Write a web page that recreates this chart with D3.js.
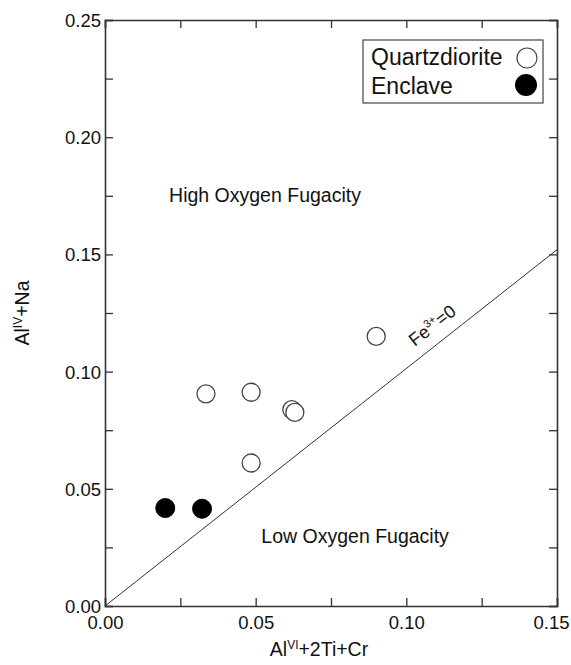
<!DOCTYPE html>
<html lang="en">
<head>
    <meta charset="UTF-8">
    <title>Fe3+ oxygen fugacity plot</title>
    <script src="https://d3js.org/d3.v7.min.js"></script>
    <style>
        body { margin: 0; background: #fff; }
        text { font-family: "Liberation Sans", Arial, sans-serif; fill: #111; }
    </style>
</head>
<body>
    <div id="chart"></div>
    <script>
        // data
        const quartzX = [0.0335, 0.0485, 0.0620, 0.0630, 0.0485, 0.0900]
        const quartzY = [0.0905, 0.0912, 0.0838, 0.0826, 0.0610, 0.1150]
        const enclaveX = [0.0200, 0.0322]
        const enclaveY = [0.0418, 0.0415]
        const lineX = [0, 0.15]
        const lineY = [0, 0.152]
        const xTicks = [0, 0.05, 0.10, 0.15]
        const yTicks = [0, 0.05, 0.10, 0.15, 0.20, 0.25]

        const W = 571, H = 665
        const margin = {top: 20, right: 14, bottom: 59, left: 105}
        const width = W - margin.left - margin.right,
              height = H - margin.top - margin.bottom

        const svg = d3.select("#chart").append("svg")
            .attr("width", W).attr("height", H)
        const g = svg.append("g")
            .attr("transform", `translate(${margin.left},${margin.top})`)

        const x = d3.scaleLinear().domain([0, 0.15]).range([0, width])
        const y = d3.scaleLinear().domain([0, 0.25]).range([height, 0])

        const fmt = d3.format(".2f")
        const minorX = d3.range(0, 0.15001, 0.025)
        const minorY = d3.range(0, 0.25001, 0.025)

        // axes with inward ticks on all four sides
        const axB = g.append("g").attr("transform", `translate(0,${height})`)
            .call(d3.axisBottom(x).tickValues(minorX).tickSize(-8)
                .tickFormat(d => xTicks.some(t => Math.abs(t - d) < 1e-9) ? fmt(d) : ""))
        const axL = g.append("g")
            .call(d3.axisLeft(y).tickValues(minorY).tickSize(-8)
                .tickFormat(d => yTicks.some(t => Math.abs(t - d) < 1e-9) ? fmt(d) : ""))
        const axT = g.append("g")
            .call(d3.axisTop(x).tickValues(minorX).tickSize(-8).tickFormat(""))
        const axR = g.append("g").attr("transform", `translate(${width},0)`)
            .call(d3.axisRight(y).tickValues(minorY).tickSize(-8).tickFormat(""))

        ;[axB, axL, axT, axR].forEach(a => {
            a.select(".domain").attr("stroke", "#333").attr("stroke-width", 1.6)
            a.selectAll(".tick line").attr("stroke", "#333").attr("stroke-width", 1.3)
            a.selectAll("text").style("font-size", "18.5px")
                .style("font-family", "'Liberation Sans', Arial, sans-serif").attr("fill", "#111")
        })
        axB.selectAll("text").attr("dy", "1.1em")
        // last label sits a bit left of its tick, as in the original
        axB.selectAll(".tick text").filter(d => Math.abs(d - 0.15) < 1e-9).attr("dx", -6)
        axL.selectAll("text").attr("x", -4).attr("dy", "0.35em")

        // Fe3+ = 0 line
        g.append("line")
            .attr("x1", x(lineX[0])).attr("y1", y(lineY[0]))
            .attr("x2", x(lineX[1])).attr("y2", y(lineY[1]))
            .attr("stroke", "#333").attr("stroke-width", 1)

        const ang = Math.atan2(y(lineY[0]) - y(lineY[1]), x(lineX[1]) - x(lineX[0])) * 180 / Math.PI
        const lbl = g.append("text")
            .attr("transform", `translate(${x(0.1028)},${y(0.1105)}) rotate(${-ang})`)
            .style("font-size", "18px")
        lbl.append("tspan").text("Fe")
        lbl.append("tspan").attr("dy", -7).style("font-size", "11px").text("3+")
        lbl.append("tspan").attr("dy", 7).text("=0")

        // region labels
        g.append("text").attr("x", x(0.0531)).attr("y", y(0.1725))
            .attr("text-anchor", "middle").style("font-size", "19.5px")
            .text("High Oxygen Fugacity")
        g.append("text").attr("x", x(0.0830)).attr("y", y(0.0270))
            .attr("text-anchor", "middle").style("font-size", "19.5px")
            .text("Low Oxygen Fugacity")

        // points
        const quartz = quartzX.map((v, i) => ({x: v, y: quartzY[i]}))
        const enclave = enclaveX.map((v, i) => ({x: v, y: enclaveY[i]}))

        g.selectAll(".q").data(quartz).join("circle").attr("class", "q")
            .attr("cx", d => x(d.x)).attr("cy", d => y(d.y)).attr("r", 9)
            .attr("fill", "#fff").attr("stroke", "#444").attr("stroke-width", 1.3)
        g.selectAll(".e").data(enclave).join("circle").attr("class", "e")
            .attr("cx", d => x(d.x)).attr("cy", d => y(d.y)).attr("r", 9.5)
            .attr("fill", "#000").attr("stroke", "#000")

        // legend
        const leg = svg.append("g").attr("transform", "translate(363,40)")
        leg.append("rect").attr("width", 180).attr("height", 63)
            .attr("fill", "#fff").attr("stroke", "#444").attr("stroke-width", 1.2)
        leg.append("text").attr("x", 8).attr("y", 25).style("font-size", "23px").text("Quartzdiorite")
        leg.append("text").attr("x", 8).attr("y", 54).style("font-size", "23px").text("Enclave")
        leg.append("circle").attr("cx", 164).attr("cy", 18).attr("r", 10)
            .attr("fill", "#fff").attr("stroke", "#444").attr("stroke-width", 1.2)
        leg.append("circle").attr("cx", 163).attr("cy", 45).attr("r", 11)
            .attr("fill", "#000")

        // axis titles
        const xt = svg.append("text").attr("x", 319).attr("y", 656)
            .attr("text-anchor", "middle").style("font-size", "19.5px")
        xt.append("tspan").text("Al")
        xt.append("tspan").attr("dy", -7).style("font-size", "12px").text("VI")
        xt.append("tspan").attr("dy", 7).text("+2Ti+Cr")

        const yt = svg.append("text")
            .attr("transform", "translate(29,313) rotate(-90)")
            .attr("text-anchor", "middle").style("font-size", "19.5px")
        yt.append("tspan").text("Al")
        yt.append("tspan").attr("dy", -7).style("font-size", "12px").text("IV")
        yt.append("tspan").attr("dy", 7).text("+Na")
    </script>
</body>
</html>
